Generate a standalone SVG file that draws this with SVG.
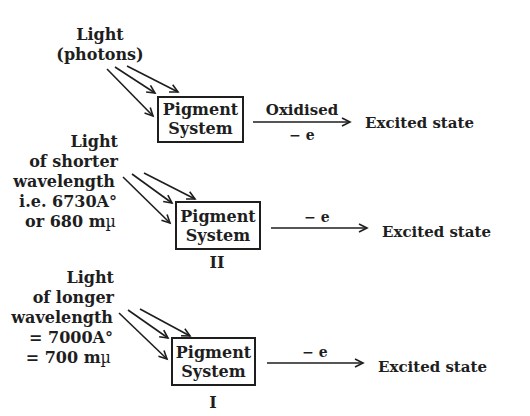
<svg xmlns="http://www.w3.org/2000/svg" width="530" height="416" viewBox="0 0 530 416">
<style>
text{font-family:"DejaVu Serif","Liberation Serif",serif;font-weight:bold;fill:#1e1e1e}
.lbl{font-size:16px}
.r{text-anchor:end}
.c{text-anchor:middle}
.sm{font-size:15px}
.e{font-size:14px}
.mu{font-weight:normal}
.box{fill:none;stroke:#1e1e1e;stroke-width:2}
.ln{stroke:#1e1e1e;stroke-width:1.6;fill:none;marker-end:url(#ah)}
</style>
<defs>
<marker id="ah" markerUnits="userSpaceOnUse" markerWidth="12" markerHeight="12" refX="9" refY="5" orient="auto">
<path d="M1,1 L9,5 L1,9" fill="none" stroke="#1e1e1e" stroke-width="1.6"/>
</marker>
</defs>
<rect width="530" height="416" fill="#fff"/>
<g id="light1">
<text class="lbl c" x="100" y="40">Light</text>
<text class="lbl c" x="100" y="60">(photons)</text>
</g>
<g id="ps1">
<rect class="box" x="158" y="97" width="85" height="45"/>
<text class="lbl c" x="200.5" y="115">Pigment</text>
<text class="lbl c" x="200.5" y="134">System</text>
</g>
<g id="ex1">
<text class="sm" x="365" y="128">Excited state</text>
</g>
<g id="light2">
<text class="lbl r" x="118" y="147">Light</text>
<text class="lbl r" x="118" y="167">of shorter</text>
<text class="lbl r" x="115" y="187">wavelength</text>
<text class="lbl r" x="117" y="207">i.e. 6730A°</text>
<text class="lbl r" x="116" y="227">or 680 m<tspan class="mu">µ</tspan></text>
</g>
<g id="ps2">
<rect class="box" x="176" y="202" width="84" height="47"/>
<text class="lbl c" x="218" y="222">Pigment</text>
<text class="lbl c" x="218" y="241">System</text>
<text class="lbl c" x="217" y="268">II</text>
</g>
<g id="ex2">
<text class="sm" x="382" y="237">Excited state</text>
</g>
<g id="light3">
<text class="lbl r" x="114" y="283">Light</text>
<text class="lbl r" x="114" y="303">of longer</text>
<text class="lbl r" x="113" y="323">wavelength</text>
<text class="lbl r" x="113" y="343">= 7000A°</text>
<text class="lbl r" x="111" y="363">= 700 m<tspan class="mu">µ</tspan></text>
</g>
<g id="ps3">
<rect class="box" x="172" y="338" width="83" height="47"/>
<text class="lbl c" x="213.5" y="358">Pigment</text>
<text class="lbl c" x="213.5" y="377">System</text>
<text class="lbl c" x="213" y="408">I</text>
</g>
<g id="ex3">
<text class="sm" x="378" y="372">Excited state</text>
</g>
<g id="connectors">
<line class="ln" x1="107" y1="69" x2="153" y2="116"/>
<line class="ln" x1="115" y1="67" x2="155" y2="93"/>
<line class="ln" x1="127" y1="66" x2="178" y2="92"/>
<line class="ln" x1="253" y1="122" x2="350" y2="122"/>
<text class="sm c" x="302" y="115">Oxidised</text>
<text class="e c" x="302" y="140">− e</text>
<line class="ln" x1="123" y1="177" x2="170" y2="223"/>
<line class="ln" x1="132" y1="174" x2="172" y2="203"/>
<line class="ln" x1="144" y1="173" x2="195" y2="199"/>
<line class="ln" x1="271" y1="228" x2="367" y2="228"/>
<text class="e c" x="317" y="222">− e</text>
<line class="ln" x1="119" y1="313" x2="167" y2="359"/>
<line class="ln" x1="128" y1="310" x2="168" y2="338"/>
<line class="ln" x1="140" y1="309" x2="190" y2="336"/>
<line class="ln" x1="267" y1="363" x2="363" y2="363"/>
<text class="e c" x="315" y="357">− e</text>
</g>
</svg>
